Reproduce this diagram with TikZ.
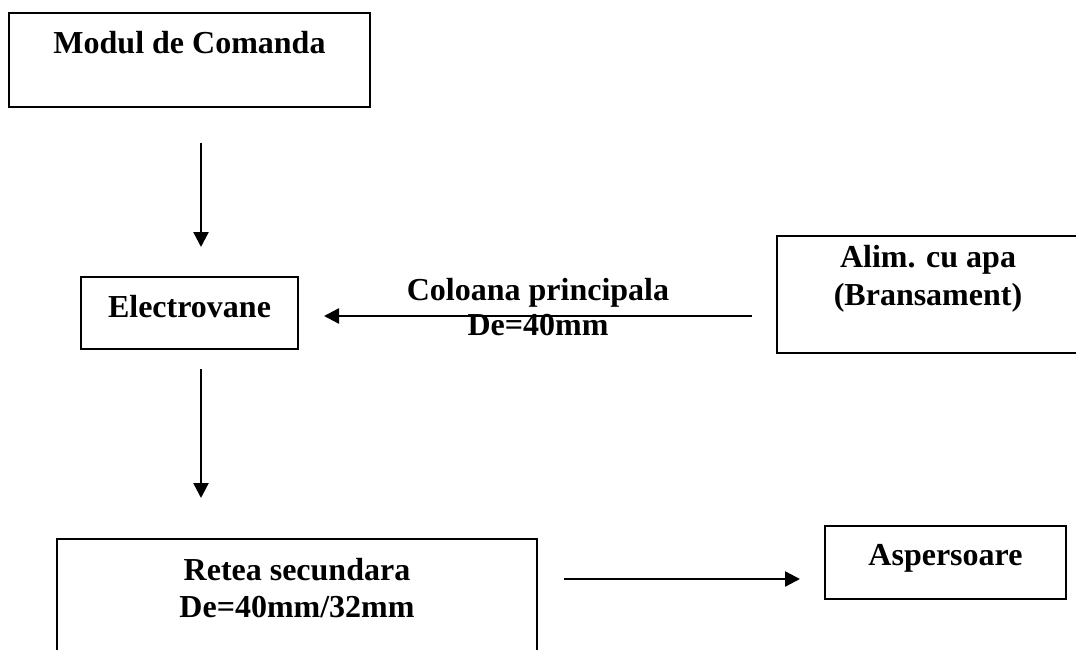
\documentclass[tikz,border=0pt]{standalone}
\usepackage{fontspec}
\setmainfont{Liberation Serif}
\usetikzlibrary{arrows.meta}

\begin{document}
\begin{tikzpicture}[x=1pt,y=-1pt,->,>={Triangle[width=15pt,length=15pt]},
        box/.style={draw,line width=2pt,inner sep=0pt,align=center,
                    font=\fontsize{32}{36}\selectfont\bfseries},
        every edge/.style={draw,line width=2.4pt}]
        \useasboundingbox (0,0) rectangle (1076,650);
        \node[box,minimum width=361pt,text height=41pt,text depth=53pt](A) at (189.5,60){Modul de Comanda};
        \node[box,minimum width=217pt,text height=40pt,text depth=32pt](B) at (189.5,313){Electrovane};
        \node[box,minimum width=302pt,text height=69pt,text depth=48pt,
              font=\fontsize{32}{38}\selectfont\bfseries](C) at (928,294.5){Alim. cu apa\\(Bransament)};
        \node[box,minimum width=480pt,text height=78pt,text depth=38pt,
              font=\fontsize{32}{37}\selectfont\bfseries](D) at (297,597){Retea secundara\\De=40mm/32mm};
        \node[box,minimum width=241pt,text height=39pt,text depth=34pt](E) at (945.5,562.5){Aspersoare};
        \path ([xshift=11.5pt,yshift=-35pt]A.south) edge ([xshift=11.5pt,yshift=29pt]B.north)
        ([xshift=11.5pt,yshift=-19pt]B.south) edge ([xshift=-96pt,yshift=40pt]D.north)
        ([xshift=-24pt,yshift=-21.5pt]C.west) edge node[draw=none,align=center,anchor=base,yshift=-19pt,
            font=\fontsize{32}{35}\selectfont\bfseries]{Coloana principala\\De=40mm} ([xshift=25pt,yshift=-3pt]B.east)
        ([xshift=26pt,yshift=18pt]D.east) edge ([xshift=-24pt,yshift=-16.5pt]E.west)
        ;
    \end{tikzpicture}
\end{document}
